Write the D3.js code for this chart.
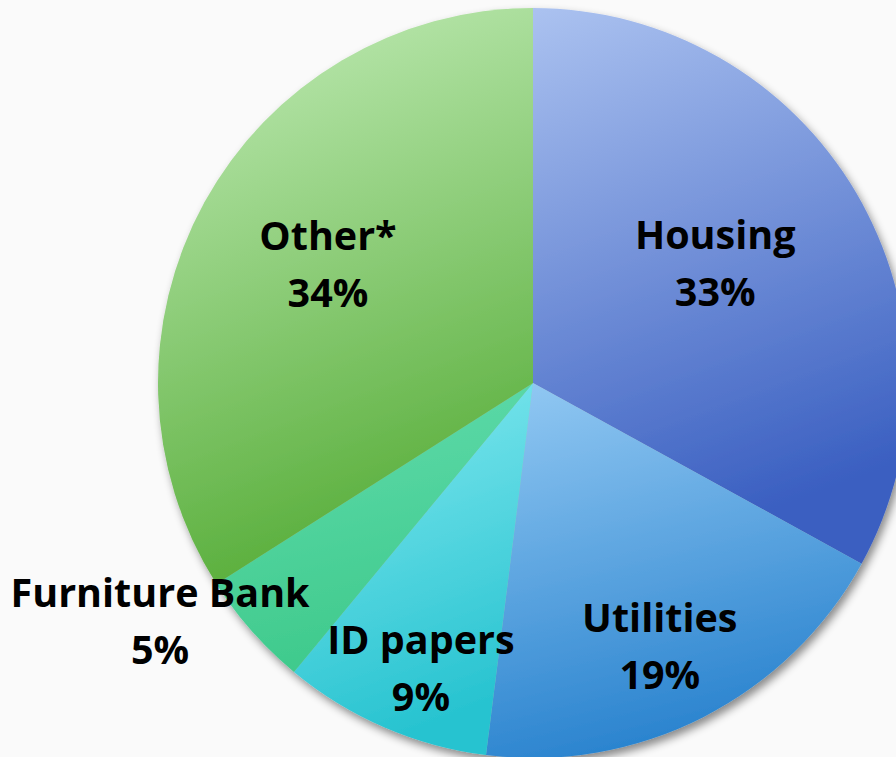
<!DOCTYPE html>
<html>
<head>
<meta charset="utf-8">
<script src="https://cdn.jsdelivr.net/npm/d3@7"></script>
<style>
  html, body { margin: 0; padding: 0; background: #fafafa; }
  svg { display: block; }
</style>
</head>
<body>
<div id="chart"></div>
<script>
// slice data
const categories = ["Housing", "Utilities", "ID papers", "Furniture Bank", "Other*"];
const shares = [33, 19, 9, 5, 34];

// gradient colours, light (top) to dark (bottom)
const topColors = ["#abc2f0", "#93c9f3", "#86eaf1", "#62dcae", "#c4edba"];
const bottomColors = ["#3a5fc1", "#2b84cf", "#27c3d0", "#3fca8c", "#5aaf3c"];

const width = 896, height = 757;
const cx = 533, cy = 383, radius = 375;

// label placement: radius factor + nudge in px
const labelTweak = {
    "Housing":        {r: 0.58, dx: -5,  dy: -9},
    "Utilities":      {r: 0.78, dx: -6,  dy: 2},
    "ID papers":      {r: 0.82, dx: 10,  dy: 3},
    "Furniture Bank": {r: 1.18, dx: -41, dy: -55},
    "Other*":         {r: 0.63, dx: 2,   dy: -5}
};

const data = categories.map((c, i) => ({name: c, value: shares[i], i: i}));

const svg = d3.select("#chart")
    .append("svg")
    .attr("width", width)
    .attr("height", height);

const defs = svg.append("defs");

data.forEach(d => {
    const g = defs.append("linearGradient")
        .attr("id", "grad" + d.i)
        .attr("x1", 0).attr("y1", 0)
        .attr("x2", 0.25).attr("y2", 1);
    g.append("stop").attr("offset", "0%").attr("stop-color", topColors[d.i]);
    g.append("stop").attr("offset", "100%").attr("stop-color", bottomColors[d.i]);
});

const shadow = defs.append("filter")
    .attr("id", "shadow")
    .attr("x", "-10%").attr("y", "-10%")
    .attr("width", "130%").attr("height", "130%");
shadow.append("feDropShadow")
    .attr("dx", 3).attr("dy", 5)
    .attr("stdDeviation", 4)
    .attr("flood-color", "#000")
    .attr("flood-opacity", 0.45);

const pie = d3.pie()
    .value(d => d.value)
    .sort(null);

const arc = d3.arc()
    .innerRadius(0)
    .outerRadius(radius);

const arcs = pie(data);

const g = svg.append("g")
    .attr("transform", "translate(" + cx + "," + cy + ")");

g.append("g")
    .attr("filter", "url(#shadow)")
    .selectAll("path")
    .data(arcs)
    .enter()
    .append("path")
    .attr("d", arc)
    .style("fill", d => "url(#grad" + d.data.i + ")");

const lineStep = 57;

const labels = g.selectAll("text.lbl")
    .data(arcs)
    .enter()
    .append("text")
    .attr("class", "lbl")
    .attr("transform", d => {
        const t = labelTweak[d.data.name];
        const la = d3.arc().innerRadius(radius * t.r).outerRadius(radius * t.r);
        const c = la.centroid(d);
        return "translate(" + (c[0] + t.dx) + "," + (c[1] + t.dy) + ")";
    })
    .attr("text-anchor", "middle")
    .style("font-family", "'Open Sans', sans-serif")
    .style("font-weight", "bold")
    .style("font-size", "39.5px")
    .style("font-variant-ligatures", "none")
    .style("fill", "#000");

labels.append("tspan")
    .attr("x", 0)
    .attr("y", -14)
    .text(d => d.data.name);

labels.append("tspan")
    .attr("x", 0)
    .attr("y", -14 + lineStep)
    .text(d => d.data.value + "%");
</script>
</body>
</html>
